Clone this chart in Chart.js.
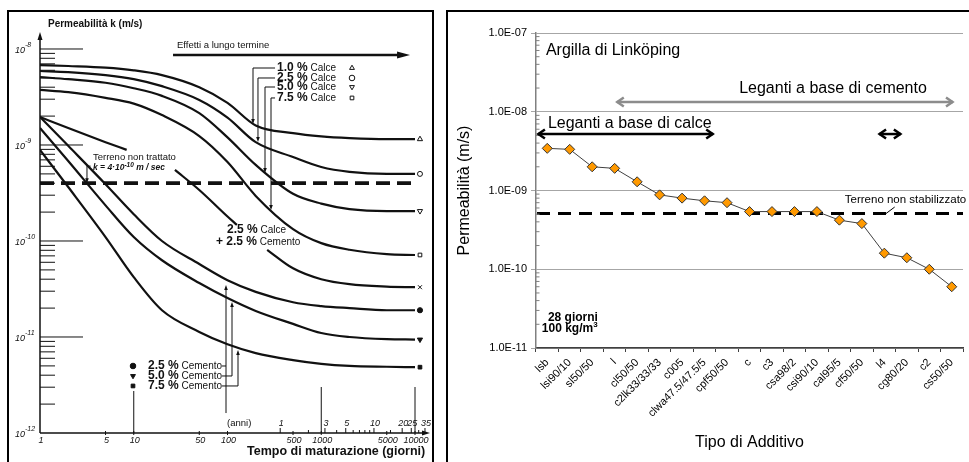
<!DOCTYPE html>
<html>
<head>
<meta charset="utf-8">
<script src="https://cdn.jsdelivr.net/npm/chart.js@4.4.1/dist/chart.umd.min.js"></script>
<style>
    html, body { margin: 0; padding: 0; background: #fff; }
    body { width: 969px; height: 462px; position: relative; overflow: hidden; }
    .panel { position: absolute; top: 10px; height: 470px; border: 2px solid #000; border-bottom: none; box-sizing: border-box; }
    #p1 { left: 7px; width: 427px; }
    #p2 { left: 446px; width: 540px; }
    canvas { position: absolute; top: 0; }
    #sx { left: 0; }
    #dx { left: 449px; }
</style>
</head>
<body>
<div class="panel" id="p1"></div>
<div class="panel" id="p2"></div>
<canvas id="sx" width="440" height="462"></canvas>
<canvas id="dx" width="520" height="462"></canvas>
<script>
const FONT = '"Liberation Sans", Arial, Helvetica, sans-serif';
const INK = '#111';

// ---- grafico sinistro: permeabilità k (m/s) contro tempo di maturazione (giorni) ----
const giorni = [1, 2, 5, 10, 20, 50, 100, 200, 500, 1000, 2000, 5000, 10000];
const calce10 = [6.8e-9, 6.65e-9, 6.4e-9, 6.0e-9, 5.35e-9, 4.0e-9, 2.75e-9, 1.6e-9, 1.33e-9, 1.23e-9, 1.18e-9, 1.15e-9, 1.15e-9];
const calce25 = [5.9e-9, 5.75e-9, 5.35e-9, 4.85e-9, 4.1e-9, 2.95e-9, 1.93e-9, 1.07e-9, 7.5e-10, 5.9e-10, 5.25e-10, 5.0e-10, 5.0e-10];
const calce50 = [5.1e-9, 4.85e-9, 4.45e-9, 3.9e-9, 3.25e-9, 2.15e-9, 1.2e-9, 6.2e-10, 3.1e-10, 2.45e-10, 2.15e-10, 2.05e-10, 2.05e-10];
const calce75 = [3.75e-9, 3.55e-9, 3.1e-9, 2.7e-9, 2.05e-9, 1.24e-9, 6.65e-10, 2.95e-10, 1.33e-10, 9.5e-11, 8.1e-11, 7.3e-11, 7.15e-11];
const cemento25 = [1.96e-9, 9.8e-10, 3.9e-10, 1.9e-10, 1.0e-10, 5.75e-11, 3.9e-11, 2.95e-11, 2.3e-11, 2.1e-11, 2.0e-11, 1.9e-11, 1.9e-11];
const cemento50 = [1.5e-9, 6.8e-10, 2.35e-10, 1.1e-10, 6.3e-11, 3.65e-11, 2.55e-11, 1.87e-11, 1.37e-11, 1.1e-11, 1.0e-11, 9.5e-12, 9.4e-12];
const cemento75 = [8.9e-10, 3.65e-10, 1.1e-10, 4.2e-11, 1.9e-11, 1.13e-11, 8.4e-12, 6.8e-12, 5.75e-12, 5.25e-12, 5.0e-12, 4.9e-12, 4.85e-12];
// 2.5 % calce + 2.5 % cemento: la curva è interrotta dove passano le scritte
const giorniMisto = [1, 2, 5, 8.4, 15, 27.5, 50, 100, 126, 180, 265, 500, 1000, 2000, 5000, 10000];
const calceCemento = [1.96e-9, 1.5e-9, 1.07e-9, 8.9e-10, null, 5.5e-10, 3.4e-10, 1.8e-10, 1.47e-10, null, 8.1e-11, 5.2e-11, 4.0e-11, 3.55e-11, 3.35e-11, 3.3e-11];
const kNonTrattato = 4e-10;
const xTickGiorni = [1, 5, 10, 50, 100, 500, 1000, 5000, 10000];
const yDecadi = [-12, -11, -10, -9, -8];
const anniEtichette = [1, 3, 5, 10, 20, 25, 35];
const anniTacche = [1, 2, 3, 4, 5, 6, 7, 8, 9, 10, 15, 20, 25, 30, 35];

// ---- grafico destro: argilla di Linköping, 28 giorni ----
const additivi = ['lsb', 'lsi90/10', 'sl50/50', 'l', 'cl50/50', 'c2lk33/33/33', 'c005', 'clwa47.5/47.5/5', 'cpf50/50',
    'c', 'c3', 'csa98/2', 'csi90/10', 'cal95/5', 'cf50/50', 'l4', 'cg80/20', 'c2', 'cs50/50'];
const permeabilita = [3.43e-9, 3.33e-9, 2.0e-9, 1.91e-9, 1.29e-9, 8.8e-10, 8.0e-10, 7.4e-10, 7.0e-10,
    5.4e-10, 5.4e-10, 5.4e-10, 5.4e-10, 4.2e-10, 3.8e-10, 1.6e-10, 1.4e-10, 1.0e-10, 6.0e-11];
const kNonStabilizzato = 5.1e-10;
const yTickDx = [1e-11, 1e-10, 1e-9, 1e-8, 1e-7];

// ---- disegno ----
function seg(ctx, x1, y1, x2, y2) {
    ctx.beginPath();
    ctx.moveTo(x1, y1);
    ctx.lineTo(x2, y2);
    ctx.stroke();
}

// punta piena con vertice in (x, y), direzione (dx, dy)
function punta(ctx, x, y, dx, dy, len, hw) {
    ctx.beginPath();
    ctx.moveTo(x, y);
    ctx.lineTo(x - dx * len - dy * hw, y - dy * len + dx * hw);
    ctx.lineTo(x - dx * len + dy * hw, y - dy * len - dx * hw);
    ctx.closePath();
    ctx.fill();
}

// testo con più font di seguito
function testo(ctx, parti, x, y) {
    ctx.textAlign = 'left';
    ctx.textBaseline = 'middle';
    parti.forEach(([t, f, dy]) => {
        ctx.font = f;
        ctx.fillText(t, x, y + (dy || 0));
        x += ctx.measureText(t).width;
    });
}

function simbolo(ctx, stile, rot, pieno, x, y, r) {
    ctx.save();
    ctx.fillStyle = pieno ? INK : '#fff';
    ctx.strokeStyle = INK;
    ctx.lineWidth = 1;
    if (Chart.helpers && Chart.helpers.drawPoint) {
        Chart.helpers.drawPoint(ctx, { pointStyle: stile, rotation: rot, radius: r, borderWidth: 1 }, x, y);
    } else {
        ctx.beginPath();
        ctx.arc(x, y, r, 0, Math.PI * 2);
        ctx.fill();
        ctx.stroke();
    }
    ctx.restore();
}

const B12 = 'bold 12px ' + FONT;
const R10 = '10px ' + FONT;

const sinistraPlugin = {
    id: 'sinistra',
    afterDraw(chart) {
        const { ctx, chartArea: a } = chart;
        const xs = chart.scales.x, ys = chart.scales.y;
        const X = lx => xs.getPixelForValue(10 ** lx);
        const Y = ly => ys.getPixelForValue(10 ** ly);
        const x0 = X(0), y0 = Y(-12);
        ctx.save();
        ctx.strokeStyle = INK;
        ctx.fillStyle = INK;

        // assi con frecce
        ctx.lineWidth = 1.5;
        seg(ctx, x0, y0, x0, a.top + 4);
        punta(ctx, x0, a.top, 0, -1, 8, 2.5);
        seg(ctx, x0, y0, a.right - 4, y0);
        punta(ctx, a.right, y0, 1, 0, 8, 2.5);

        // tacche asse y (verso l'interno) ed etichette 10^n
        ctx.lineWidth = 1;
        yDecadi.forEach(e => {
            const y = Y(e);
            if (e > -12) seg(ctx, x0, y, x0 + 43, y);
            if (e < -8) {
                for (let m = 2; m <= 9; m++) {
                    const ym = Y(e + Math.log10(m));
                    seg(ctx, x0, ym, x0 + 15, ym);
                }
            }
            ctx.textBaseline = 'alphabetic';
            ctx.textAlign = 'right';
            ctx.font = 'italic 9px ' + FONT;
            ctx.fillText('10', x0 - 15, y + 4);
            ctx.textAlign = 'left';
            ctx.font = 'italic 7px ' + FONT;
            ctx.fillText('-' + Math.abs(e), x0 - 15, y - 2);
        });

        // tacche ed etichette asse x (giorni)
        ctx.textAlign = 'center';
        ctx.textBaseline = 'middle';
        ctx.font = 'italic 9px ' + FONT;
        xTickGiorni.forEach(g => {
            const x = X(Math.log10(g));
            if (g > 1) seg(ctx, x, y0 - 2, x, y0 + 2);
            ctx.fillText(String(g), x + 1, Y(-12.078));
        });
        // anni
        anniTacche.forEach(an => {
            const x = X(Math.log10(an * 365));
            seg(ctx, x, y0, x, y0 - (anniEtichette.includes(an) ? 5 : 3));
        });
        anniEtichette.forEach(an => {
            ctx.fillText(String(an), X(Math.log10(an * 365)) + 1, Y(-11.896));
        });
        ctx.font = '9.5px ' + FONT;
        ctx.textAlign = 'left';
        ctx.fillText('(anni)', X(1.995), Y(-11.896));

        // linee verticali di riferimento
        seg(ctx, X(1), Y(-11.5625), X(1), y0);
        seg(ctx, X(3), Y(-11.521), X(3), y0);
        seg(ctx, X(4), Y(-11.521), X(4), y0);

        // titoli assi
        testo(ctx, [['Permeabilità k (m/s)', 'bold 10px ' + FONT]], X(0.085), Y(-7.74));
        testo(ctx, [['Tempo di maturazione (giorni)', 'bold 12.5px ' + FONT]], X(2.208), Y(-12.195));

        // effetti a lungo termine
        testo(ctx, [['Effetti a lungo termine', '9.5px ' + FONT]], X(1.461), Y(-7.958));
        ctx.lineWidth = 2.5;
        seg(ctx, X(1.419), Y(-8.0625), X(3.947) - 8, Y(-8.0625));
        punta(ctx, X(3.947), Y(-8.0625), 1, 0, 13, 3.5);

        // etichette calce con richiami
        const righeCalce = [
            ['1.0 %', -8.198, 2.272, -8.781, 'triangle', 0],
            ['2.5 %', -8.302, 2.325, -8.969, 'circle', 0],
            ['5.0 %', -8.396, 2.400, -9.292, 'triangle', 180],
            ['7.5 %', -8.510, 2.464, -9.677, 'rect', 0]
        ];
        ctx.lineWidth = 1;
        righeCalce.forEach(([p, ly, lxr, lyp, st, rot]) => {
            testo(ctx, [[p, B12], [' Calce', R10]], X(2.528), Y(ly));
            simbolo(ctx, st, rot, false, X(3.328), Y(ly), st === 'rect' ? 2.6 : 2.8);
            seg(ctx, X(2.507), Y(ly), X(lxr), Y(ly));
            seg(ctx, X(lxr), Y(ly), X(lxr), Y(lyp) - 4);
            punta(ctx, X(lxr), Y(lyp), 0, 1, 5, 1.8);
        });

        // terreno non trattato
        testo(ctx, [['Terreno non trattato', '9.5px ' + FONT]], X(0.565), Y(-9.125));
        testo(ctx, [['k = 4·10', 'italic bold 8.5px ' + FONT], ['-10', 'italic bold 6.5px ' + FONT, -3],
            [' m / sec', 'italic bold 8.5px ' + FONT]], X(0.565), Y(-9.24));
        seg(ctx, X(0.501), Y(-9.22), X(0.540), Y(-9.22));
        seg(ctx, X(0.501), Y(-9.22), X(0.501), Y(Math.log10(kNonTrattato)) - 4);
        punta(ctx, X(0.501), Y(Math.log10(kNonTrattato)), 0, 1, 5, 1.8);

        // 2.5 % calce + 2.5 % cemento
        testo(ctx, [['2.5 %', B12], [' Calce', R10]], X(1.995), Y(-9.885));
        testo(ctx, [['+ 2.5 %', B12], [' Cemento', R10]], X(1.877), Y(-10.01));

        // etichette cemento con richiami
        const righeCem = [
            ['2.5 %', -11.302, 1.984, -10.458, 'circle', 0, -11.792],
            ['5.0 %', -11.406, 2.048, -10.635, 'triangle', 180, null],
            ['7.5 %', -11.510, 2.112, -11.135, 'rect', 0, null]
        ];
        righeCem.forEach(([p, ly, lxr, lyp, st, rot, lyb]) => {
            simbolo(ctx, st, rot, true, X(0.992), Y(ly), st === 'rect' ? 2.6 : 2.8);
            testo(ctx, [[p, B12], [' Cemento', R10]], X(1.152), Y(ly));
            seg(ctx, X(1.941), Y(ly), X(lxr), Y(ly));
            seg(ctx, X(lxr), Y(lyb == null ? ly : lyb), X(lxr), Y(lyp) + 4);
            punta(ctx, X(lxr), Y(lyp), 0, -1, 5, 1.8);
        });
        ctx.restore();
    }
};

const curve = [calce10, calce25, calce50, calce75, cemento25, cemento50, cemento75];
const tratto = { borderColor: INK, borderWidth: 2.2, pointRadius: 0, fill: false, cubicInterpolationMode: 'monotone', spanGaps: false };
const datiSx = curve.map(s => Object.assign({ data: giorni.map((g, i) => ({ x: g, y: s[i] })) }, tratto));
datiSx.push(Object.assign({ data: giorniMisto.map((g, i) => ({ x: g, y: calceCemento[i] })) }, tratto));
datiSx.push({
    data: [{ x: giorni[0], y: kNonTrattato }, { x: giorni[giorni.length - 1], y: kNonTrattato }],
    borderColor: INK, borderWidth: 3.8, borderDash: [14, 7], pointRadius: 0, fill: false
});
// simboli a fine curva
const ordineFine = [calce10, calce25, calce50, calce75, calceCemento, cemento25, cemento50, cemento75];
datiSx.push({
    data: ordineFine.map(s => ({ x: 10 ** 4.053, y: s[s.length - 1] })),
    showLine: false,
    pointStyle: ['triangle', 'circle', 'triangle', 'rect', 'crossRot', 'circle', 'triangle', 'rect'],
    pointRotation: [0, 0, 180, 0, 0, 0, 180, 0],
    pointRadius: [3, 2.5, 3, 2.6, 2.8, 2.6, 3, 2.6],
    pointBackgroundColor: ['#fff', '#fff', '#fff', '#fff', '#fff', INK, INK, INK],
    pointBorderColor: INK,
    pointBorderWidth: 1
});

new Chart(document.getElementById('sx'), {
    type: 'line',
    data: { datasets: datiSx },
    options: {
        responsive: false,
        animation: false,
        events: [],
        layout: { padding: { left: 40, top: 32, right: 10, bottom: 29 } },
        plugins: { legend: { display: false }, tooltip: { enabled: false } },
        scales: {
            x: { type: 'logarithmic', display: false, min: 1, max: 10 ** 4.16 },
            y: { type: 'logarithmic', display: false, min: 1e-12, max: 10 ** -7.823 }
        }
    },
    plugins: [sinistraPlugin]
});

// ---- grafico destro ----
function formatoE(v) {
    const e = Math.round(Math.log10(v));
    const m = v / 10 ** e;
    return m.toFixed(1) + 'E' + (e < 0 ? '-' : '+') + String(Math.abs(e)).padStart(2, '0');
}

function doppiaFreccia(ctx, x1, x2, y, colore) {
    ctx.strokeStyle = colore;
    ctx.lineWidth = 2.5;
    ctx.lineJoin = 'miter';
    seg(ctx, x1 + 1, y, x2 - 1, y);
    ctx.beginPath();
    ctx.moveTo(x1 + 8, y - 4.5); ctx.lineTo(x1 + 1.5, y); ctx.lineTo(x1 + 8, y + 4.5);
    ctx.stroke();
    ctx.beginPath();
    ctx.moveTo(x2 - 8, y - 4.5); ctx.lineTo(x2 - 1.5, y); ctx.lineTo(x2 - 8, y + 4.5);
    ctx.stroke();
}

const destraPlugin = {
    id: 'destra',
    beforeDatasetsDraw(chart) {
        const { ctx, chartArea: a } = chart;
        const y = chart.scales.y.getPixelForValue(kNonStabilizzato);
        ctx.save();
        ctx.strokeStyle = '#000';
        ctx.lineWidth = 3;
        ctx.setLineDash([13, 8]);
        seg(ctx, a.left + 1, y, a.right, y);
        ctx.restore();
    },
    afterDraw(chart) {
        const { ctx, chartArea: a } = chart;
        const xs = chart.scales.x, ys = chart.scales.y;
        const X = i => xs.getPixelForValue(i);
        const Y = ly => ys.getPixelForValue(10 ** ly);
        ctx.save();
        // tacche minori interne
        ctx.strokeStyle = '#808080';
        ctx.lineWidth = 1;
        for (let e = -11; e < -7; e++) {
            for (let m = 2; m <= 9; m++) {
                const y = Y(e + Math.log10(m));
                seg(ctx, a.left, y, a.left + 3.5, y);
            }
        }
        ctx.fillStyle = '#000';
        const F16 = '16px ' + FONT;
        testo(ctx, [['Argilla di Linköping', F16]], X(-0.06), Y(-7.229));
        testo(ctx, [['Leganti a base di cemento', F16]], X(8.54), Y(-7.711));
        testo(ctx, [['Leganti a base di calce', F16]], X(0.03), Y(-8.156));
        testo(ctx, [['28 giorni', B12]], X(0.03), Y(-10.619));
        testo(ctx, [['100 kg/m', B12], ['3', 'bold 8px ' + FONT, -4]], X(-0.24), Y(-10.759));
        testo(ctx, [['Terreno non stabilizzato', '11.5px ' + FONT]], X(13.24), Y(-9.12));
        ctx.strokeStyle = '#000';
        ctx.lineWidth = 1;
        seg(ctx, X(15.04), Y(-9.30), X(15.46), Y(-9.21));

        doppiaFreccia(ctx, X(3.05), X(18.1), Y(-7.876), '#8c8c8c');
        doppiaFreccia(ctx, X(-0.46), X(7.43), Y(-8.283), '#000');
        doppiaFreccia(ctx, X(14.72), X(15.78), Y(-8.283), '#000');
        ctx.restore();
    }
};

new Chart(document.getElementById('dx'), {
    type: 'line',
    data: {
        labels: additivi,
        datasets: [{
            data: permeabilita,
            borderColor: '#404040',
            borderWidth: 1,
            tension: 0,
            pointStyle: 'rectRot',
            pointRadius: 5,
            pointBackgroundColor: '#FF9900',
            pointBorderColor: '#333',
            pointBorderWidth: 1
        }]
    },
    options: {
        responsive: false,
        animation: false,
        events: [],
        layout: { padding: { left: 0, top: 33, right: 0, bottom: 0 } },
        plugins: { legend: { display: false }, tooltip: { enabled: false } },
        scales: {
            x: {
                type: 'category',
                offset: true,
                grid: { offset: true, drawOnChartArea: false, tickLength: 4, color: '#404040' },
                border: { color: '#404040', width: 1.5 },
                ticks: { autoSkip: false, minRotation: 45, maxRotation: 45, padding: 4, color: '#000', font: { family: FONT, size: 11 } },
                title: { display: true, text: 'Tipo di Additivo', color: '#000', font: { family: FONT, size: 16 }, padding: { top: 0, bottom: 10 } },
                afterFit: s => { s.height = 114; }
            },
            y: {
                type: 'logarithmic',
                min: 1e-11,
                max: 1e-7,
                afterBuildTicks: s => { s.ticks = yTickDx.map(v => ({ value: v })); },
                grid: { color: '#a6a6a6', lineWidth: 1, tickLength: 5 },
                border: { color: '#808080', width: 1.5 },
                ticks: { callback: v => formatoE(v), padding: 4, color: '#000', font: { family: FONT, size: 11 } },
                title: { display: true, text: 'Permeabilità (m/s)', color: '#000', font: { family: FONT, size: 16 }, padding: { top: 6, bottom: 0 } },
                afterFit: s => { s.width = 87; }
            }
        }
    },
    plugins: [destraPlugin]
});
</script>
</body>
</html>
